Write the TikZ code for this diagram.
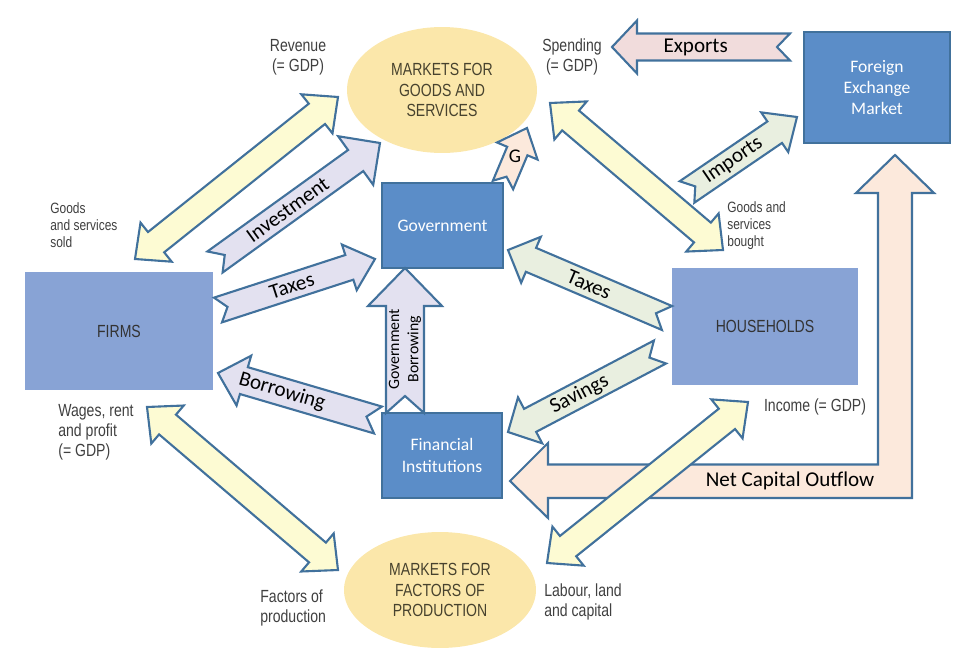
\documentclass[tikz,border=0pt]{standalone}
\usepackage{fontspec}
\setmainfont{Carlito}
\newfontfamily\narrowfont[FakeStretch=0.8]{Liberation Sans}
\usetikzlibrary{shapes.geometric,calc}
\definecolor{boxblue}{HTML}{5B8DC8}
\definecolor{edgeblue}{HTML}{41719C}
\definecolor{lightblue}{HTML}{88A3D5}
\definecolor{marketgold}{HTML}{FBE7AA}
\definecolor{flowyellow}{HTML}{FDFBD3}
\definecolor{flowlilac}{HTML}{E3E1F0}
\definecolor{flowsage}{HTML}{E9EFE0}
\definecolor{flowpeach}{HTML}{FCE9DC}
\definecolor{flowpink}{HTML}{F1DCDC}
\definecolor{notegrey}{HTML}{404040}
\definecolor{markettext}{HTML}{47422E}
\newcommand{\flowarrow}[7]{%
	\coordinate (hb) at ($(#3)!#6!(#2)$);
	\draw[flow, fill=#1] ($(#2)!#4!90:(#3)$) -- ($(hb)!#4!90:(#3)$) -- ($(hb)!#5!90:(#3)$) -- (#3)
		-- ($(hb)!#5!-90:(#3)$) -- ($(hb)!#4!-90:(#3)$) -- ($(#2)!#4!-90:(#3)$) -- ($(#2)!#7!(#3)$) -- cycle;
}
\newcommand{\twowayarrow}[6]{%
	\coordinate (ha) at ($(#2)!#6!(#3)$);
	\coordinate (hb) at ($(#3)!#6!(#2)$);
	\draw[flow, fill=#1] (#2) -- ($(ha)!#5!90:(#3)$) -- ($(ha)!#4!90:(#3)$) -- ($(hb)!#4!90:(#3)$) -- ($(hb)!#5!90:(#3)$) -- (#3)
		-- ($(hb)!#5!-90:(#3)$) -- ($(hb)!#4!-90:(#3)$) -- ($(ha)!#4!-90:(#3)$) -- ($(ha)!#5!-90:(#3)$) -- cycle;
}

\begin{document}
\begin{tikzpicture}[x=0.02cm,y=-0.02cm]
	\tikzstyle{darkbox}=[draw=edgeblue, line width=1.2pt, fill=boxblue, text=white, align=center, font=\fontsize{10}{12}\selectfont]
	\tikzstyle{lightbox}=[fill=lightblue, text=notegrey!80!black, font=\narrowfont\fontsize{10}{12}\selectfont]
	\tikzstyle{market}=[ellipse, fill=marketgold, inner sep=0pt, text=markettext, align=center, font=\narrowfont\fontsize{10}{11.5}\selectfont]
	\tikzstyle{note}=[inner sep=0pt, text=notegrey, align=center, font=\narrowfont\fontsize{10}{11.5}\selectfont]
	\tikzstyle{smallnote}=[inner sep=0pt, text=notegrey, align=left, font=\narrowfont\fontsize{8.5}{9.6}\selectfont]
	\tikzstyle{flow}=[draw=edgeblue, line width=1.2pt]
	\tikzstyle{flowlabel}=[sloped, font=\fontsize{12}{14}\selectfont]
	
	\useasboundingbox (0,0) rectangle (971,666);
	
	\node[market, minimum width=3.8cm, minimum height=2.52cm] (goods) at (442,90) {MARKETS FOR\\GOODS AND\\SERVICES};
	\node[market, minimum width=3.84cm, minimum height=2.32cm] (factors) at (440,590) {MARKETS FOR\\FACTORS OF\\PRODUCTION};
	\node[lightbox, minimum width=3.76cm, minimum height=2.36cm] (firms) at (119,331) {FIRMS};
	\node[lightbox, minimum width=3.72cm, minimum height=2.34cm] (households) at (765,326.5) {HOUSEHOLDS};
	\node[darkbox, minimum width=2.42cm, minimum height=1.7cm] (govt) at (442.5,225.5) {Government};
	\node[darkbox, minimum width=2.4cm, minimum height=1.7cm] (finance) at (442,455.5) {Financial\\Institutions};
	\node[darkbox, minimum width=2.92cm, minimum height=2.22cm] (forex) at (877,87.5) {Foreign\\Exchange\\Market};
	
	\coordinate (nco tip) at (510,481);
	\coordinate (nco top) at (895,155);
	\draw[flow, fill=flowpeach] (nco tip) -- (548,443) -- (548,464.5) -- (878,464.5) -- (878,193) -- (856,193) -- (nco top)
		-- (934,193) -- (912,193) -- (912,498) -- (548,498) -- (548,518) -- cycle;
	\node[font=\fontsize{12}{14}\selectfont] (ncolabel) at (790,481) {Net Capital Outflow};
	
	\coordinate (rev a) at (135,259);
	\coordinate (rev b) at (338,97);
	\coordinate (spend a) at (550,103);
	\coordinate (spend b) at (723,250);
	\coordinate (wage a) at (147,407);
	\coordinate (wage b) at (338,570);
	\coordinate (inc a) at (547,563);
	\coordinate (inc b) at (748,402);
	\twowayarrow{flowyellow}{rev a}{rev b}{0.26cm}{0.5cm}{0.54cm}
	\twowayarrow{flowyellow}{spend a}{spend b}{0.26cm}{0.5cm}{0.54cm}
	\twowayarrow{flowyellow}{wage a}{wage b}{0.26cm}{0.5cm}{0.54cm}
	\twowayarrow{flowyellow}{inc a}{inc b}{0.26cm}{0.5cm}{0.54cm}
	
	\coordinate (inv tail) at (215,262);
	\coordinate (inv tip) at (380,143);
	\flowarrow{flowlilac}{inv tail}{inv tip}{0.26cm}{0.6cm}{0.6cm}{0.24cm}
	\path (inv tail) -- (inv tip) node[flowlabel, pos=0.44] (invlabel) {Investment};
	
	\coordinate (ftax tail) at (218,310);
	\coordinate (ftax tip) at (375,259);
	\flowarrow{flowlilac}{ftax tail}{ftax tip}{0.26cm}{0.48cm}{0.54cm}{0.2cm}
	\path (ftax tail) -- (ftax tip) node[flowlabel, pos=0.47] (ftaxlabel) {Taxes};
	
	\coordinate (g tail) at (503,185);
	\coordinate (g tip) at (527,128);
	\flowarrow{flowpeach}{g tail}{g tip}{0.22cm}{0.44cm}{0.5cm}{0.18cm}
	\path (g tail) -- (g tip) node[pos=0.5, font=\fontsize{11}{13}\selectfont] (glabel) {G};
	
	\coordinate (gb tail) at (405,413);
	\coordinate (gb tip) at (405,268);
	\flowarrow{flowlilac}{gb tail}{gb tip}{0.38cm}{0.74cm}{0.76cm}{0.34cm}
	\path (gb tail) -- (gb tip) node[pos=0.44, rotate=90, align=center, font=\fontsize{9}{11}\selectfont] (gblabel) {Government\\Borrowing};
	
	\coordinate (bor tail) at (378,420);
	\coordinate (bor tip) at (218,373);
	\flowarrow{flowlilac}{bor tail}{bor tip}{0.28cm}{0.52cm}{0.54cm}{0.24cm}
	\path (bor tail) -- (bor tip) node[flowlabel, pos=0.6] (borlabel) {Borrowing};
	
	\coordinate (htax tail) at (667,318);
	\coordinate (htax tip) at (508,250);
	\flowarrow{flowsage}{htax tail}{htax tip}{0.26cm}{0.5cm}{0.5cm}{0.24cm}
	\path (htax tail) -- (htax tip) node[flowlabel, pos=0.49] (htaxlabel) {Taxes};
	
	\coordinate (sav tail) at (660,352);
	\coordinate (sav tip) at (508,432);
	\flowarrow{flowsage}{sav tail}{sav tip}{0.26cm}{0.52cm}{0.5cm}{0.24cm}
	\path (sav tail) -- (sav tip) node[flowlabel, pos=0.53] (savlabel) {Savings};
	
	\coordinate (imp tail) at (687,192);
	\coordinate (imp tip) at (797,117);
	\flowarrow{flowsage}{imp tail}{imp tip}{0.26cm}{0.48cm}{0.54cm}{0.2cm}
	\path (imp tail) -- (imp tip) node[flowlabel, pos=0.42] (implabel) {Imports};
	
	\coordinate (exp tail) at (790,47);
	\coordinate (exp tip) at (612,47);
	\flowarrow{flowpink}{exp tail}{exp tip}{0.27cm}{0.53cm}{0.5cm}{0.26cm}
	\path (exp tail) -- (exp tip) node[flowlabel, pos=0.53] (explabel) {Exports};
	
	\node[note] (revenue) at (298,57) {Revenue\\(= GDP)};
	\node[note] (spending) at (572,57) {Spending\\(= GDP)};
	\node[smallnote, anchor=west] (sold) at (50,225) {Goods\\and services\\sold};
	\node[smallnote, anchor=west] (bought) at (727,226) {Goods and\\services\\bought};
	\node[note, anchor=west, align=left] (wages) at (58,432) {Wages, rent\\and profit\\(= GDP)};
	\node[note] (income) at (815,407) {Income (= GDP)};
	\node[note, anchor=west, align=left] (fop) at (260,608) {Factors of\\production};
	\node[note, anchor=west, align=left] (labour) at (544,602) {Labour, land\\and capital};
\end{tikzpicture}
\end{document}
